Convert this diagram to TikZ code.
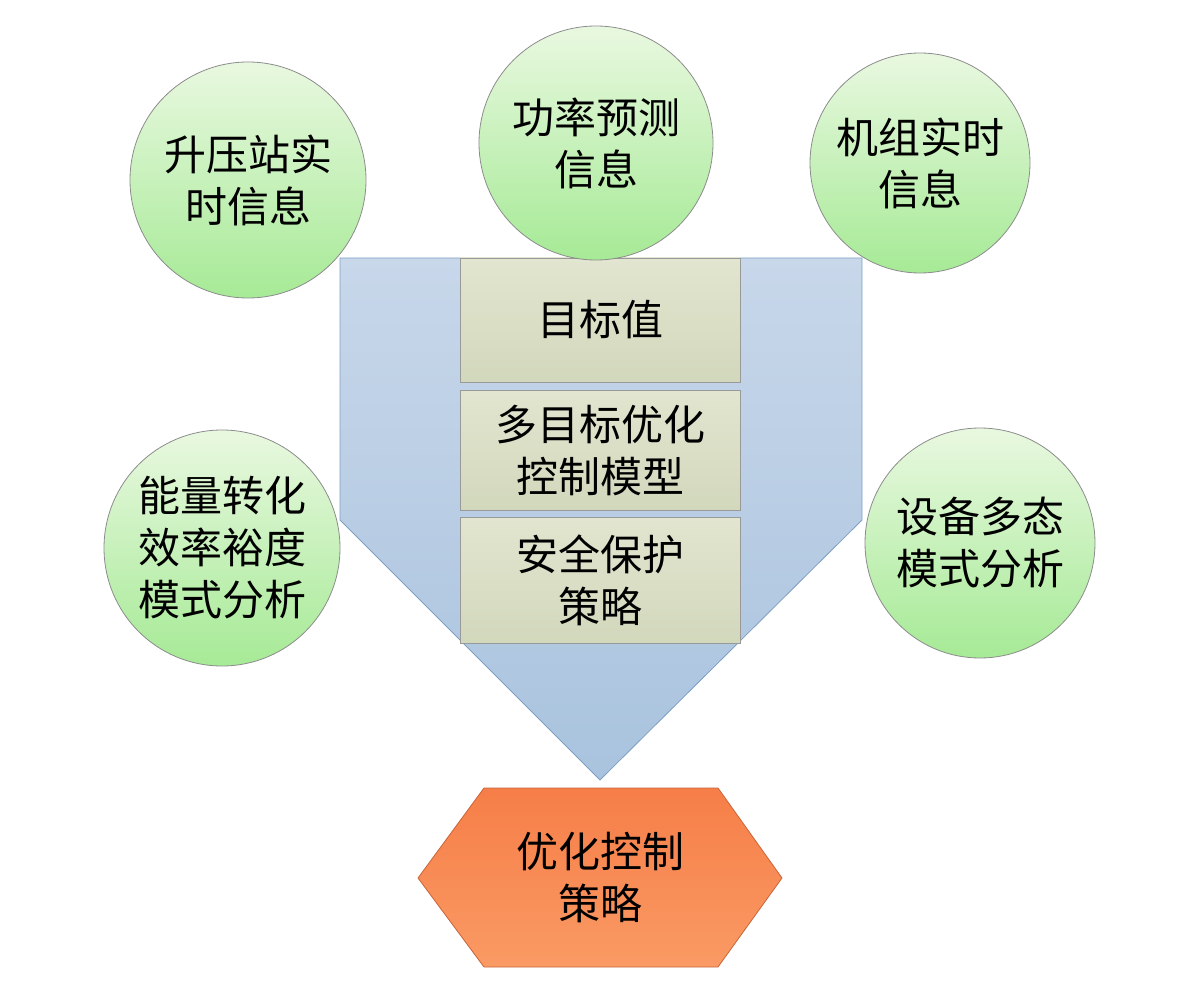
\documentclass[tikz,border=0pt]{standalone}
\usepackage{fontspec}
\setmainfont{Noto Sans CJK SC}
\definecolor{pentT}{HTML}{C8D7EA}
\definecolor{pentB}{HTML}{A9C3DE}
\definecolor{pentD}{HTML}{7F9FC4}
\definecolor{grT}{HTML}{E9F8E0}
\definecolor{grB}{HTML}{A6EA96}
\definecolor{boxT}{HTML}{E2E5CF}
\definecolor{boxB}{HTML}{D2D8BC}
\definecolor{orT}{HTML}{F67E48}
\definecolor{orB}{HTML}{FA9A64}
\definecolor{orD}{HTML}{C8643A}
\begin{document}
\begin{tikzpicture}[x=1pt,y=-1pt,
  circ/.style={circle,draw=black!45,line width=0.8pt,top color=grT,bottom color=grB,minimum size=#1,inner sep=0pt,align=center,font=\fontsize{42}{52}\selectfont},
  box/.style={rectangle,draw=black!40,line width=0.8pt,top color=boxT,bottom color=boxB,minimum width=280pt,inner sep=0pt,align=center,font=\fontsize{42}{52}\selectfont}]
\useasboundingbox (0,0) rectangle (1200,987);
\draw[draw=pentD,line width=0.8pt,top color=pentT,bottom color=pentB] (340,258) -- (862,258) -- (862,520) -- (600,780) -- (340,520) -- cycle;
\node[box,minimum height=124pt] (b1) at (600,320) {目标值};
\node[box,minimum height=120pt] (b2) at (600,450) {多目标优化\\控制模型};
\node[box,minimum height=126pt] (b3) at (600,580) {安全保护\\策略};
\node[circ=236pt] (c1) at (248,180) {升压站实\\时信息};
\node[circ=234pt] (c2) at (596,143) {功率预测\\信息};
\node[circ=220pt] (c3) at (920,163) {机组实时\\信息};
\node[circ=236pt] (c4) at (222,548) {能量转化\\效率裕度\\模式分析};
\node[circ=230pt] (c5) at (980,543) {设备多态\\模式分析};
\draw[draw=orD,line width=0.8pt,top color=orT,bottom color=orB] (418,878) -- (484,788) -- (718,788) -- (782,878) -- (718,967) -- (484,967) -- cycle;
\node[align=center,font=\fontsize{42}{52}\selectfont] (h) at (600,878) {优化控制\\策略};
\end{tikzpicture}
\end{document}
